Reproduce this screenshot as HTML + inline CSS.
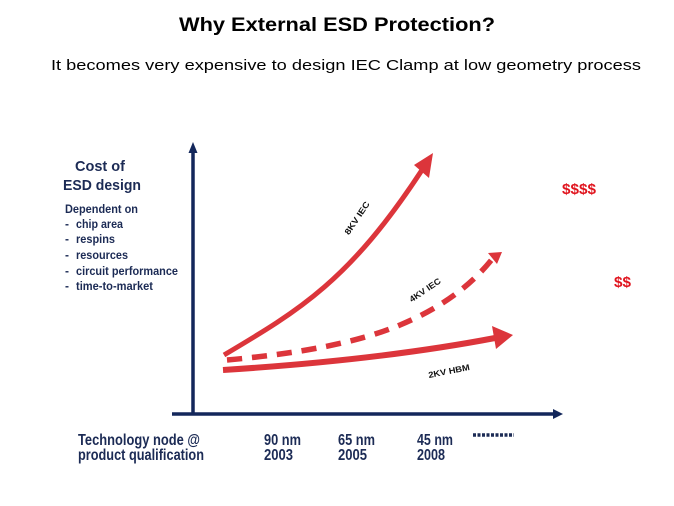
<!DOCTYPE html>
<html>
<head>
<meta charset="utf-8">
<style>
  html,body{margin:0;padding:0;background:#fff;}
  svg{display:block;}
  text{font-family:"Liberation Sans",Arial,sans-serif;}
</style>
</head>
<body>
<svg width="674" height="506" viewBox="0 0 674 506" xmlns="http://www.w3.org/2000/svg">
  <rect width="674" height="506" fill="#ffffff"/>

  <!-- Title -->
  <text x="179" y="31" font-size="19" font-weight="bold" fill="#000" textLength="316" lengthAdjust="spacingAndGlyphs">Why External ESD Protection?</text>
  <!-- Subtitle -->
  <text x="51" y="70" font-size="15" fill="#000" textLength="590" lengthAdjust="spacingAndGlyphs">It becomes very expensive to design IEC Clamp at low geometry process</text>

  <!-- Left description -->
  <g fill="#1c2b55" font-weight="bold">
    <text x="75" y="171" font-size="15" textLength="50" lengthAdjust="spacingAndGlyphs">Cost of</text>
    <text x="63" y="190" font-size="15" textLength="78" lengthAdjust="spacingAndGlyphs">ESD design</text>
    <text x="65" y="213" font-size="12" textLength="73" lengthAdjust="spacingAndGlyphs">Dependent on</text>
    <text x="65" y="228" font-size="12">-</text>
    <text x="76" y="228" font-size="12" textLength="47" lengthAdjust="spacingAndGlyphs">chip area</text>
    <text x="65" y="243" font-size="12">-</text>
    <text x="76" y="243" font-size="12" textLength="39" lengthAdjust="spacingAndGlyphs">respins</text>
    <text x="65" y="259" font-size="12">-</text>
    <text x="76" y="259" font-size="12" textLength="52" lengthAdjust="spacingAndGlyphs">resources</text>
    <text x="65" y="275" font-size="12">-</text>
    <text x="76" y="275" font-size="12" textLength="102" lengthAdjust="spacingAndGlyphs">circuit performance</text>
    <text x="65" y="290" font-size="12">-</text>
    <text x="76" y="290" font-size="12" textLength="77" lengthAdjust="spacingAndGlyphs">time-to-market</text>
  </g>

  <!-- Axes -->
  <g fill="#13275b" stroke="#13275b">
    <line x1="193" y1="150" x2="193" y2="415" stroke-width="3.5"/>
    <polygon points="193,142 188.5,153 197.5,153" stroke="none"/>
    <line x1="172" y1="414" x2="555" y2="414" stroke-width="3.5"/>
    <polygon points="563,414 553,409 553,419" stroke="none"/>
  </g>

  <!-- Curves -->
  <g fill="none" stroke="#dc353b" stroke-linecap="butt">
    <!-- 8KV IEC -->
    <path d="M224,355 C300,310 350,280 422,170" stroke-width="5"/>
    <!-- 4KV IEC dashed -->
    <path d="M227,360 Q340,350 400,325 T493,258" stroke-width="5.5" stroke-dasharray="15,10"/>
    <!-- 2KV HBM -->
    <path d="M223,370 Q380,360 495,338" stroke-width="6"/>
  </g>
  <g fill="#dc353b">
    <polygon points="433,153 414,165 429,178"/>
    <polygon points="502,252 488,253 497,264"/>
    <polygon points="513,335 492,326 496,349"/>
  </g>

  <!-- Curve labels -->
  <g font-weight="bold" fill="#111" font-size="8.5" text-anchor="middle">
    <text x="357" y="221" transform="rotate(-56 357 218)" textLength="38" lengthAdjust="spacingAndGlyphs">8KV IEC</text>
    <text x="425" y="293" transform="rotate(-34 425 290)" textLength="36" lengthAdjust="spacingAndGlyphs">4KV IEC</text>
    <text x="449" y="374" transform="rotate(-11 449 371)" textLength="42" lengthAdjust="spacingAndGlyphs">2KV HBM</text>
  </g>

  <!-- Dollar signs -->
  <g fill="#e0141e" font-weight="bold" font-size="15">
    <text x="562" y="194" textLength="34" lengthAdjust="spacingAndGlyphs">$$$$</text>
    <text x="614" y="287" textLength="17" lengthAdjust="spacingAndGlyphs">$$</text>
  </g>

  <!-- Bottom labels -->
  <g fill="#1c2b55" font-weight="bold" font-size="16">
    <text x="78" y="445" textLength="122" lengthAdjust="spacingAndGlyphs">Technology node @</text>
    <text x="78" y="460" textLength="126" lengthAdjust="spacingAndGlyphs">product qualification</text>
    <text x="264" y="445" textLength="37" lengthAdjust="spacingAndGlyphs">90 nm</text>
    <text x="264" y="460" textLength="29" lengthAdjust="spacingAndGlyphs">2003</text>
    <text x="338" y="445" textLength="37" lengthAdjust="spacingAndGlyphs">65 nm</text>
    <text x="338" y="460" textLength="29" lengthAdjust="spacingAndGlyphs">2005</text>
    <text x="417" y="445" textLength="36" lengthAdjust="spacingAndGlyphs">45 nm</text>
    <text x="417" y="460" textLength="28" lengthAdjust="spacingAndGlyphs">2008</text>
  </g>
  <line x1="473" y1="435" x2="514" y2="435" stroke="#1c2b55" stroke-width="3.5" stroke-dasharray="3,1.5"/>
</svg>
</body>
</html>
